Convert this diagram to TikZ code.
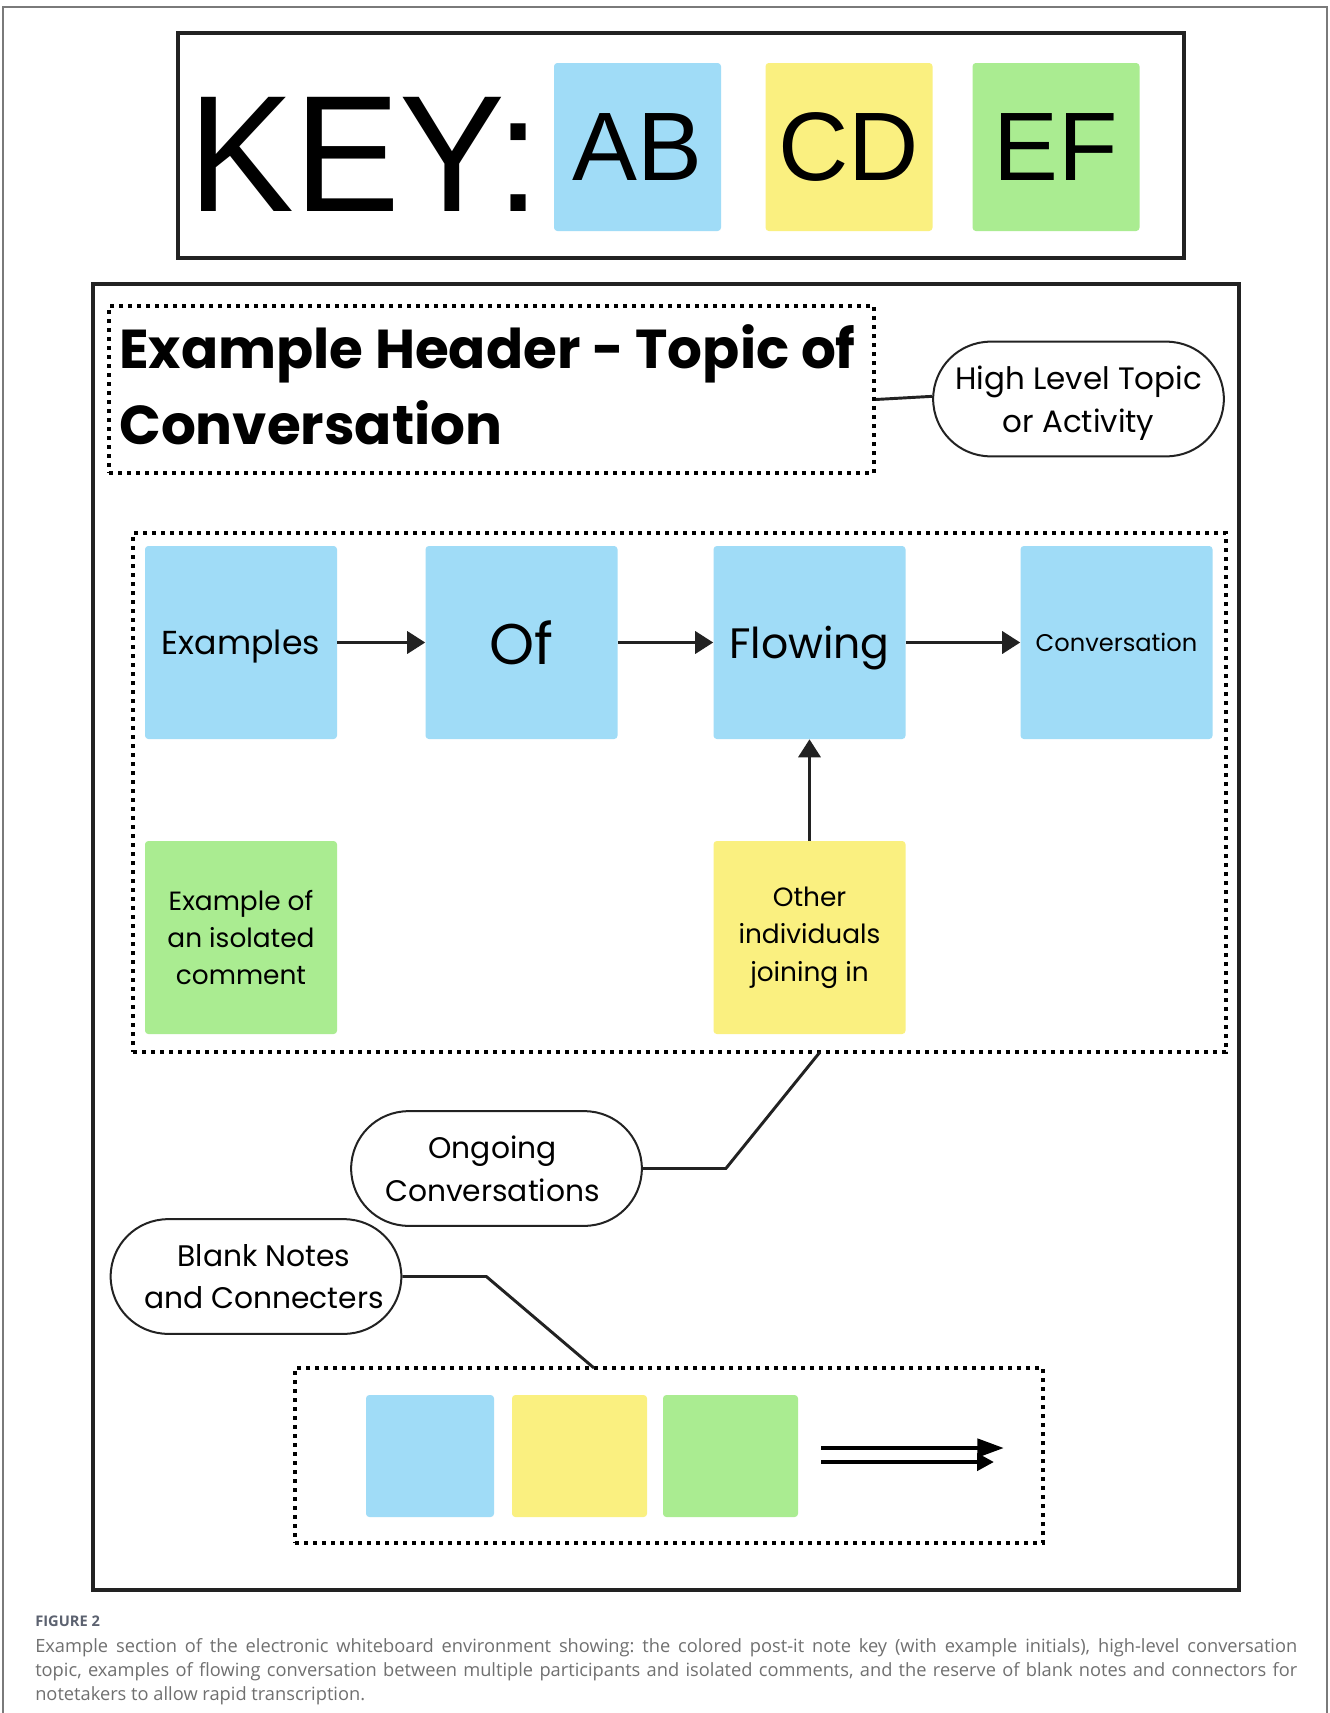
\documentclass[tikz,border=0pt]{standalone}
\usepackage{fontspec}
\usetikzlibrary{arrows.meta,shapes.misc}
\setmainfont{Poppins}
\newfontfamily\keyfont{Liberation Sans}
\newfontfamily\capfont{Open Sans}
\definecolor{noteblue}{HTML}{A0DCF7}
\definecolor{noteyellow}{HTML}{FAF080}
\definecolor{notegreen}{HTML}{AAEC91}
\definecolor{ink}{HTML}{222222}
\definecolor{capgray}{HTML}{707070}
\definecolor{figgray}{HTML}{5C6270}
\definecolor{edgegray}{HTML}{7A7A7A}
\frenchspacing

\begin{document}
\begin{tikzpicture}[x=0.75pt, y=-0.75pt,
	note/.style={fill=#1, rounded corners=2.5pt, inner sep=0pt, align=center, minimum width=144pt, minimum height=144.75pt},
	keynote/.style={fill=#1, rounded corners=2.5pt, inner sep=0pt, minimum width=125.25pt, minimum height=126pt, font=\keyfont\fontsize{73}{73}\selectfont},
	blanknote/.style={fill=#1, rounded corners=2.5pt, inner sep=0pt, minimum height=91.5pt},
	dotbox/.style={draw, line width=2.6pt, dash pattern=on 3pt off 3.75pt, inner sep=0pt},
	pill/.style={draw=ink, line width=1.5pt, rounded rectangle, minimum width=218pt, minimum height=86pt, align=center, inner sep=0pt, font=\fontsize{22.3}{32}\selectfont},
	flow/.style={draw=ink, line width=2.6pt, -{Triangle[length=13.5pt, width=16.5pt]}},
	link/.style={draw=ink, line width=2.2pt},
	captext/.style={inner sep=0pt, text=capgray, font=\capfont\fontsize{13.7}{18}\selectfont},
]
	\fill[white] (0,0) rectangle (1330,1713);
	\useasboundingbox (0,0) rectangle (1330,1713);
	\draw[edgegray, line width=1.2pt] (3,1720) -- (3,7) -- (1327,7) -- (1327,1720);

	\draw[ink, line width=3pt] (178,32.5) rectangle (1184,257.5);
	\node[anchor=base west, inner sep=0pt, font=\keyfont\fontsize{124.5}{124.5}\selectfont] (keylabel) at (188,211) {\scalebox{0.955}[1]{KEY:}};
	\node[keynote=noteblue] (keyab) at (637.5,147) {AB};
	\node[keynote=noteyellow] (keycd) at (849,147) {CD};
	\node[keynote=notegreen] (keyef) at (1056,147) {EF};

	\draw[ink, line width=3pt] (93,284) rectangle (1239,1589.5);
	\node[dotbox, minimum width=573.75pt, minimum height=125.25pt] (headbox) at (491.5,389.5) {};
	\node[anchor=north west, inner sep=0pt, align=left, font=\fontsize{41.1}{57}\selectfont\bfseries] (headtext) at (119,324) {Example Header - Topic of\\Conversation};
	\node[pill, text depth=0pt, font=\fontsize{23.2}{32}\selectfont] (hltopic) at (1078.5,399) {High Level Topic\\or Activity};
	\draw[link] ([yshift=-7.5pt]headbox.east) -- ([yshift=2pt]hltopic.west);

	\node[dotbox, minimum width=819.75pt, minimum height=389.25pt] (convbox) at (679.5,792.5) {};
	\node[note=noteblue, text depth=0pt, font=\fontsize{24.9}{28}\selectfont] (examples) at (241,642.5) {Examples};
	\node[note=noteblue, text depth=0pt, font=\fontsize{43}{48}\selectfont] (of) at (521.5,642.5) {Of};
	\node[note=noteblue, text depth=0pt, font=\fontsize{31.9}{36}\selectfont] (flowing) at (809.5,642.5) {Flowing};
	\node[note=noteblue, text depth=0pt, font=\fontsize{18.1}{22}\selectfont] (conversation) at (1116.5,642.5) {Conversation};
	\node[note=notegreen, font=\fontsize{19.8}{28}\selectfont] (isolated) at (241,937.5) {Example of\\an isolated\\comment};
	\node[note=noteyellow, font=\fontsize{19.8}{28}\selectfont] (joining) at (809.5,937.5) {Other\\individuals\\joining in};
	\draw[flow] (examples) -- (of);
	\draw[flow] (of) -- (flowing);
	\draw[flow] (flowing) -- (conversation);
	\draw[flow] (joining) -- (flowing);

	\node[pill] (ongoing) at (496.5,1168.5) {\hspace*{-6pt}Ongoing\\\hspace*{-6pt}Conversations};
	\coordinate (ongoingend) at (820,1052);
	\draw[link] (ongoing.east) -- ++(83,0) -- (ongoingend);
	\node[pill] (blanknotes) at (256,1276.5) {\hspace*{12pt}Blank Notes\\\hspace*{12pt}and Connecters};
	\node[dotbox, minimum width=561pt, minimum height=131.25pt] (blankbox) at (669,1455.5) {};
	\coordinate (blankend) at (594,1368);
	\draw[link] (blanknotes.east) -- ++(84,0) -- (blankend);

	\node[blanknote=noteblue, minimum width=96pt] (blankblue) at (430,1456) {};
	\node[blanknote=noteyellow, minimum width=101.25pt] (blankyellow) at (579.5,1456) {};
	\node[blanknote=notegreen, minimum width=101.25pt] (blankgreen) at (730.5,1456) {};
	\coordinate (dblstart1) at (821,1448);
	\coordinate (dblend1) at (1004,1448);
	\coordinate (dblstart2) at (821,1462);
	\coordinate (dblend2) at (994,1462);
	\draw[line width=3.4pt, -{Triangle[length=20pt, width=13.5pt]}] (dblstart1) -- (dblend1);
	\draw[line width=3.4pt, -{Triangle[length=12.75pt, width=12.75pt]}] (dblstart2) -- (dblend2);

	\node[anchor=base west, inner sep=0pt, text=figgray, font=\capfont\bfseries\fontsize{11}{13}\selectfont] (figlabel) at (35,1626) {FIGURE 2};
	\node[captext, anchor=base west] (capline1) at (35,1652) {\makebox[946.5pt][s]{Example section of the electronic whiteboard environment showing: the colored post-it note key (with example initials), high-level conversation}};
	\node[captext, anchor=base west] (capline2) at (35,1676) {\makebox[946.5pt][s]{topic, examples of flowing conversation between multiple participants and isolated comments, and the reserve of blank notes and connectors for}};
	\node[captext, anchor=base west] (capline3) at (35,1700) {notetakers to allow rapid transcription.};
\end{tikzpicture}
\end{document}
